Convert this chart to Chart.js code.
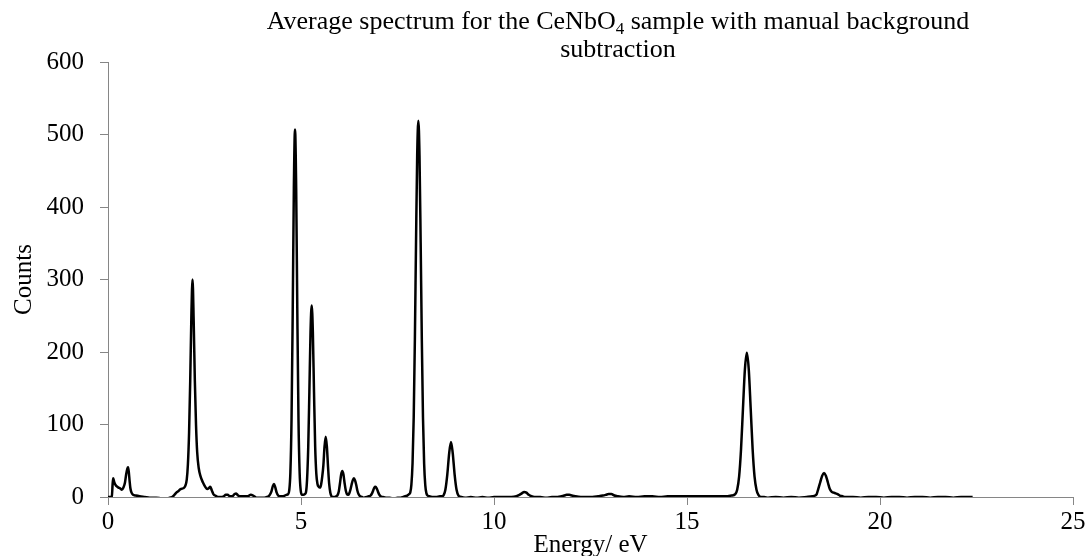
<!DOCTYPE html>
<html>
<head>
<meta charset="utf-8">
<script src="https://cdn.jsdelivr.net/npm/chart.js@4/dist/chart.umd.min.js"></script>
<style>
  html, body { margin: 0; padding: 0; background: #fff; }
</style>
</head>
<body>
<canvas id="spectrum" width="1089" height="556"></canvas>
<script>
// energy (eV) and counts
const energy = [
  0.00, 0.05, 0.10, 0.12, 0.135, 0.16, 0.19, 0.22, 0.27, 0.31, 0.36, 0.40, 0.44, 0.47, 0.50, 0.52, 0.54, 0.56, 0.58, 0.61,
  0.65, 0.72, 0.82, 0.95, 1.08, 1.25, 1.40, 1.51, 1.60, 1.66, 1.72, 1.77, 1.82, 1.88, 1.95,
  2.00, 2.04, 2.07, 2.10, 2.13, 2.16, 2.19, 2.22, 2.25, 2.28, 2.31, 2.35, 2.40, 2.46, 2.52, 2.57, 2.61, 2.65, 2.69, 2.73,
  2.78, 2.85, 2.92,
  3.00, 3.05, 3.10, 3.16, 3.22, 3.28, 3.32, 3.37, 3.45, 3.55, 3.62, 3.70, 3.76, 3.85, 3.95, 4.05, 4.12, 4.18, 4.23, 4.27,
  4.30, 4.33, 4.37, 4.41, 4.47, 4.53, 4.58, 4.62,
  4.665, 4.695, 4.725, 4.755, 4.785, 4.815, 4.845, 4.875, 4.905, 4.935, 4.965, 4.995, 5.025, 5.06, 5.10, 5.13,
  5.157, 5.187, 5.217, 5.247, 5.277, 5.307, 5.337, 5.367, 5.397, 5.427, 5.46, 5.49, 5.52, 5.55, 5.58, 5.61, 5.64, 5.67,
  5.70, 5.73, 5.76, 5.79, 5.82, 5.86, 5.91, 5.95, 5.98, 6.01, 6.04, 6.07, 6.10, 6.13, 6.16, 6.19, 6.22, 6.25, 6.28, 6.31,
  6.34, 6.37, 6.40, 6.43, 6.46, 6.49, 6.53, 6.58, 6.63, 6.70, 6.76, 6.80, 6.84, 6.87, 6.90, 6.93, 6.96, 6.99, 7.02, 7.06,
  7.12, 7.20, 7.30, 7.40, 7.50, 7.58, 7.65, 7.70, 7.75,
  7.80, 7.83, 7.86, 7.89, 7.92, 7.95, 7.98, 8.01, 8.04, 8.07, 8.10, 8.13, 8.16, 8.19, 8.22, 8.25, 8.28, 8.32, 8.40, 8.50,
  8.60, 8.66, 8.70, 8.74, 8.79, 8.84, 8.886, 8.93, 8.98, 9.03, 9.08, 9.15, 9.25, 9.40, 9.55, 9.70, 9.85,
  10.00, 10.15, 10.30, 10.45, 10.58, 10.66, 10.72, 10.78, 10.84, 10.90, 10.97, 11.05, 11.20, 11.35, 11.50, 11.65, 11.75,
  11.82, 11.88, 11.95, 12.02, 12.10, 12.25, 12.40, 12.55, 12.70, 12.82, 12.90, 12.97, 13.04, 13.12, 13.20, 13.35, 13.50,
  13.70, 13.90, 14.10, 14.30, 14.50, 14.70, 14.90, 15.10, 15.30, 15.50, 15.70, 15.90, 16.05, 16.15,
  16.25, 16.30, 16.35, 16.40, 16.45, 16.50, 16.55, 16.60, 16.65, 16.70, 16.75, 16.80, 16.85, 16.92, 17.00, 17.10, 17.30,
  17.50, 17.70, 17.90, 18.10, 18.25, 18.32,
  18.36, 18.40, 18.45, 18.50, 18.55, 18.60, 18.65, 18.70, 18.75, 18.80, 18.85, 18.90, 18.96, 19.03, 19.10, 19.30, 19.50,
  19.70, 19.90, 20.10, 20.30, 20.50, 20.70, 20.90, 21.10, 21.30, 21.50, 21.70, 21.90, 22.10, 22.30, 22.40
];
const counts = [
  0, 0, 1, 18, 26, 21, 17, 15, 13, 12, 10, 13, 20, 31, 39, 41, 34, 22, 12, 6,
  3, 2, 1, 0, -1, -1, -2, -2, -1, 0, 3, 6, 8, 11, 12,
  15, 24, 45, 88, 160, 250, 300, 242, 160, 100, 62, 40, 28, 20, 14, 11, 12, 14, 9, 4,
  2, 0, 0,
  1, 3, 3, 1, 1, 4, 5, 2, 1, 1, 1, 3, 2, -1, -1, -1, 0, 2, 7, 15,
  18, 14, 6, 2, 1, 1, 2, 3,
  4, 9, 34, 108, 253, 426, 507, 426, 253, 107, 33, 8, 3, 3, 4, 7,
  24, 68, 145, 228, 264, 228, 145, 70, 32, 18, 14, 13, 17, 28, 44, 70, 83, 70,
  42, 18, 6, 1, 0, 0, 1, 3, 8, 19, 31, 36, 31, 19, 9, 4, 3, 5, 10, 17,
  23, 26, 23, 17, 9, 4, 1, 0, -1, 0, 1, 2, 5, 9, 13, 14, 12, 8, 4, 1,
  0, -1, -1, -2, -1, -1, 0, 1, 2,
  4, 6, 17, 47, 110, 217, 351, 471, 519, 471, 351, 217, 110, 46, 16, 5, 2, 1, 0, 0,
  1, 1, 3, 10, 31, 61, 76, 61, 31, 10, 2, 0, -1, 0, -1, 0, -1,
  0, 0, 0, 0, 1, 3, 5, 7, 6, 3, 1, 0, 0, -1, 0, 0, 1,
  2, 3, 3, 2, 1, 0, 0, 0, 1, 2, 3, 4, 4, 2, 1, 0, 1,
  0, 1, 1, 0, 1, 1, 1, 1, 1, 1, 1, 1, 1, 2,
  4, 10, 28, 66, 122, 176, 199, 176, 122, 66, 28, 10, 3, 0, 0, -1, 0,
  -1, 0, -1, 0, 1, 2,
  4, 11, 20, 29, 33, 29, 20, 11, 7, 6, 5, 4, 2, 1, 0, 0, -1,
  0, 0, -1, 0, 0, -1, 0, 0, -1, 0, 0, -1, 0, 0, 0
];
const xTicks = [0, 5, 10, 15, 20, 25];
const yTicks = [0, 100, 200, 300, 400, 500, 600];
const titleLine1 = ["Average spectrum for the CeNbO", "4", " sample with manual background"];
const titleLine2 = "subtraction";

const FONT = '"Liberation Serif", "Times New Roman", serif';
const AXIS_GREY = "#868686";

// title with the subscript 4, drawn by hand
const titlePlugin = {
  id: "subTitle",
  afterDraw(chart) {
    const ctx = chart.ctx;
    const cx = 618;
    const parts = [
      { text: titleLine1[0], font: "26px " + FONT, dy: 0 },
      { text: titleLine1[1], font: "17px " + FONT, dy: 5 },
      { text: titleLine1[2], font: "26px " + FONT, dy: 0 }
    ];
    ctx.save();
    ctx.fillStyle = "#000";
    ctx.textBaseline = "alphabetic";
    ctx.textAlign = "left";
    let w = 0;
    parts.forEach(p => { ctx.font = p.font; w += ctx.measureText(p.text).width; });
    let x = cx - w / 2;
    parts.forEach(p => {
      ctx.font = p.font;
      ctx.fillText(p.text, x, 29 + p.dy);
      x += ctx.measureText(p.text).width;
    });
    ctx.font = "26px " + FONT;
    ctx.textAlign = "center";
    ctx.fillText(titleLine2, cx, 57);
    ctx.restore();
  }
};

const points = energy.map((e, i) => ({ x: e, y: counts[i] }));

new Chart(document.getElementById("spectrum"), {
  type: "scatter",
  data: {
    datasets: [{
      data: points,
      showLine: true,
      borderColor: "#000",
      borderWidth: 2.5,
      pointRadius: 0,
      cubicInterpolationMode: "monotone"
    }]
  },
  options: {
    responsive: false,
    animation: false,
    layout: { padding: { top: 62, right: 16, left: 0, bottom: 0 } },
    plugins: {
      legend: { display: false },
      tooltip: { enabled: false },
      title: { display: false }
    },
    scales: {
      x: {
        type: "linear",
        min: 0,
        max: 25,
        afterBuildTicks: s => { s.ticks = xTicks.map(v => ({ value: v })); },
        afterFit: s => { s.height = 59; },
        ticks: {
          color: "#000",
          font: { family: FONT, size: 25 },
          padding: 2,
          maxRotation: 0,
          autoSkip: false
        },
        grid: { drawOnChartArea: false, drawTicks: true, tickLength: 8, color: AXIS_GREY },
        border: { color: AXIS_GREY, width: 1 },
        title: {
          display: true,
          text: "Energy/ eV",
          color: "#000",
          font: { family: FONT, size: 25 },
          padding: { top: 0, bottom: -4 }
        }
      },
      y: {
        type: "linear",
        min: 0,
        max: 600,
        afterBuildTicks: s => { s.ticks = yTicks.map(v => ({ value: v })); },
        afterFit: s => { s.width = 108; },
        ticks: {
          color: "#000",
          font: { family: FONT, size: 25 },
          padding: 16
        },
        grid: { drawOnChartArea: false, drawTicks: true, tickLength: 8, color: AXIS_GREY },
        border: { color: AXIS_GREY, width: 1 },
        title: {
          display: true,
          text: "Counts",
          color: "#000",
          font: { family: FONT, size: 25 },
          padding: { top: 9, bottom: 0 }
        }
      }
    }
  },
  plugins: [titlePlugin]
});
</script>
</body>
</html>
